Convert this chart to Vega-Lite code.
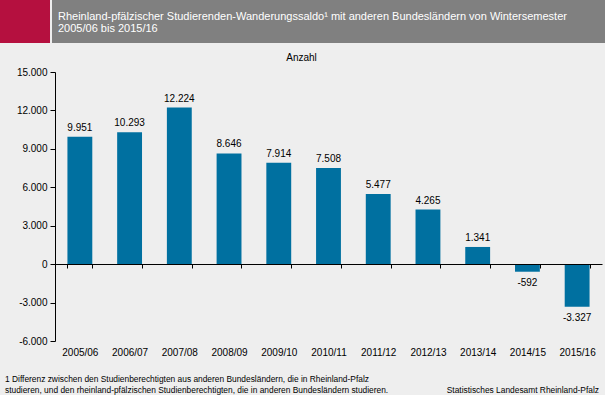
{
  "$schema": "https://vega.github.io/schema/vega-lite/v6.json",
  "background": "#eeeeee",
  "padding": 0,
  "spacing": 10,
  "config": {
    "font": "Liberation Sans",
    "view": {"stroke": null},
    "locale": {"number": {"decimal": ",", "thousands": ".", "grouping": [3], "currency": ["", " €"], "minus": "-"}},
    "title": {"fontWeight": "normal", "color": "#000000"}
  },
  "vconcat": [
    {
      "spacing": 2,
      "hconcat": [
        {
          "width": 50, "height": 43,
          "view": {"fill": "#b5103f", "stroke": null},
          "data": {"values": [{}]},
          "mark": {"type": "point", "opacity": 0},
          "encoding": {}
        },
        {
          "width": 553, "height": 43,
          "view": {"fill": "#808080", "stroke": null},
          "title": {
            "text": ["Rheinland-pfälzischer Studierenden-Wanderungssaldo¹ mit anderen Bundesländern von Wintersemester", "2005/06 bis 2015/16"],
            "anchor": "start", "frame": "group", "orient": "top", "baseline": "bottom",
            "offset": 0, "dx": 6, "dy": 45, "fontSize": 11, "lineHeight": 12, "color": "#ffffff"
          },
          "data": {"values": [{}]},
          "mark": {"type": "point", "opacity": 0},
          "encoding": {}
        }
      ]
    },
    {
      "spacing": 0,
      "hconcat": [
        {
          "width": 16, "height": 10,
          "data": {"values": [{}]},
          "mark": {"type": "point", "opacity": 0},
          "encoding": {}
        },
        {
          "width": 547, "height": 269,
          "title": {"text": "Anzahl", "fontSize": 10, "offset": 4, "dx": -27},
          "data": {"values": [
            {"semester": "2005/06", "saldo": 9951},
            {"semester": "2006/07", "saldo": 10293},
            {"semester": "2007/08", "saldo": 12224},
            {"semester": "2008/09", "saldo": 8646},
            {"semester": "2009/10", "saldo": 7914},
            {"semester": "2010/11", "saldo": 7508},
            {"semester": "2011/12", "saldo": 5477},
            {"semester": "2012/13", "saldo": 4265},
            {"semester": "2013/14", "saldo": 1341},
            {"semester": "2014/15", "saldo": -592},
            {"semester": "2015/16", "saldo": -3327}
          ]},
          "encoding": {
            "x": {
              "field": "semester", "type": "nominal", "sort": null,
              "scale": {"paddingInner": 0.5, "paddingOuter": 0.25},
              "axis": {
                "title": null, "orient": "bottom", "offset": -77, "zindex": 1,
                "domain": true, "domainColor": "#000000", "domainWidth": 1,
                "ticks": true, "tickBand": "extent", "tickColor": "#000000", "tickSize": 4,
                "labelAngle": 0, "labelPadding": 79, "labelFontSize": 10, "labelColor": "#000000"
              }
            },
            "y": {
              "field": "saldo", "type": "quantitative",
              "scale": {"domain": [-6000, 15000], "nice": false, "zero": false},
              "axis": {
                "title": null, "values": [-6000, -3000, 0, 3000, 6000, 9000, 12000, 15000],
                "format": ",d", "grid": false,
                "domain": true, "domainColor": "#000000", "tickColor": "#000000", "tickSize": 5,
                "labelPadding": 3, "labelFontSize": 10, "labelColor": "#000000"
              }
            }
          },
          "layer": [
            {"mark": {"type": "bar", "color": "#0070a0"}},
            {
              "transform": [{"filter": "datum.saldo >= 0"}],
              "mark": {"type": "text", "baseline": "alphabetic", "dy": -6, "fontSize": 10, "color": "#000000"},
              "encoding": {"text": {"field": "saldo", "type": "quantitative", "format": ",d"}}
            },
            {
              "transform": [{"filter": "datum.saldo < 0"}],
              "mark": {"type": "text", "baseline": "top", "dy": 6, "fontSize": 10, "color": "#000000"},
              "encoding": {"text": {"field": "saldo", "type": "quantitative", "format": ",d"}}
            }
          ]
        }
      ]
    },
    {
      "spacing": 0,
      "hconcat": [
        {
          "width": 400, "height": 1,
          "title": {
            "text": ["1 Differenz zwischen den Studienberechtigten aus anderen Bundesländern, die in Rheinland-Pfalz", "studieren, und den rheinland-pfälzischen Studienberechtigten, die in anderen Bundesländern studieren."],
            "anchor": "start", "frame": "group", "orient": "bottom", "offset": 2, "dx": 5, "fontSize": 8.4, "lineHeight": 11
          },
          "data": {"values": [{}]},
          "mark": {"type": "point", "opacity": 0},
          "encoding": {}
        },
        {
          "width": 205, "height": 1,
          "title": {
            "text": "Statistisches Landesamt Rheinland-Pfalz",
            "anchor": "end", "frame": "group", "orient": "bottom", "offset": 2, "dx": -6, "dy": 11, "fontSize": 8.4
          },
          "data": {"values": [{}]},
          "mark": {"type": "point", "opacity": 0},
          "encoding": {}
        }
      ]
    }
  ]
}
